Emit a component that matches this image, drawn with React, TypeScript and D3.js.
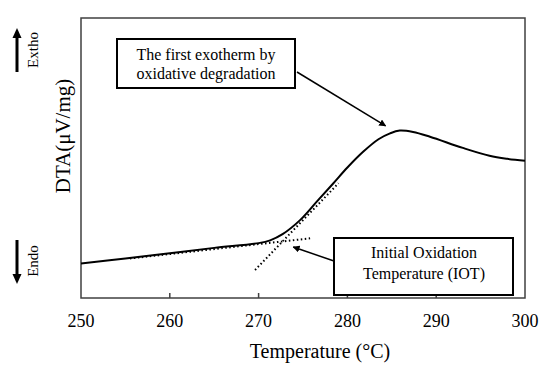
import React from "react";
import * as d3 from "d3";

const temps = [250, 255, 260, 265, 270, 271.3, 272.7, 274.7, 276.6, 278.4, 280, 281.8, 283.5, 284.8, 285.9, 287.4, 289.3, 293, 296, 298, 300];
const dta = [12.3, 14.1, 16.0, 17.9, 19.6, 20.6, 22.8, 27.9, 34.6, 40.9, 46.6, 52.3, 56.7, 58.8, 59.8, 59.3, 57.6, 53.6, 50.8, 49.7, 49.0];
const baseTangentT = [255.5, 275.8];
const baseTangentV = [14.1, 21.3];
const riseTangentT = [269.6, 279.0];
const riseTangentV = [10, 41];
const xTicks = [250, 260, 270, 280, 290, 300];
// annotation anchor points (data coords)
const peakNoteT = 284.3;
const peakNoteV = 61.5;
const iotNoteT = 273.9;
const iotNoteV = 18.2;

const W = 550, H = 371;
const L = 81, R = 525, T = 18, B = 298;
const FONT = "Liberation Serif";

export default function App() {
  const x = d3.scaleLinear().domain([250, 300]).range([L, R]);
  const y = d3.scaleLinear().domain([0, 100]).range([B, T]);
  const pts = d3.zip(temps, dta) as [number, number][];
  const curve = d3
    .line<[number, number]>()
    .x((d) => x(d[0]))
    .y((d) => y(d[1]))
    .curve(d3.curveCatmullRom.alpha(0.5))(pts);

  const a1 = { x1: 297, y1: 72, x2: x(peakNoteT), y2: y(peakNoteV) };
  const a2 = { x1: 334, y1: 261, x2: x(iotNoteT), y2: y(iotNoteV) };

  const txt = { fontFamily: FONT, fill: "#000" } as React.CSSProperties;

  return (
    <svg width={W} height={H} style={{ position: "absolute", left: 0, top: 0, background: "#fff", fontFamily: FONT }}>
      <defs>
        <marker id="ah" viewBox="0 0 10 10" refX="9" refY="5" markerWidth="7" markerHeight="7" orient="auto" markerUnits="userSpaceOnUse">
          <path d="M0,0 L10,5 L0,10 z" fill="#000" />
        </marker>
      </defs>
      <rect x={0} y={0} width={W} height={H} fill="#fff" />
      {/* frame */}
      <rect x={L} y={T} width={R - L} height={B - T} fill="none" stroke="#404040" strokeWidth={1.5} />
      {xTicks.slice(1, -1).map((t) => (
        <line key={t} x1={x(t)} x2={x(t)} y1={B} y2={B - 5} stroke="#404040" strokeWidth={1.5} />
      ))}
      {xTicks.map((t) => (
        <text key={"l" + t} x={x(t)} y={327} fontSize={18} style={txt} textAnchor="middle">
          {t}
        </text>
      ))}
      <text x={320} y={358} fontSize={20} style={txt} textAnchor="middle">
        Temperature (°C)
      </text>
      <text transform="translate(70,136) rotate(-90)" fontSize={21} style={txt} textAnchor="middle">
        DTA(μV/mg)
      </text>
      <text transform="translate(38,50) rotate(-90)" fontSize={15} style={txt} textAnchor="middle">
        Extho
      </text>
      <text transform="translate(38,261) rotate(-90)" fontSize={15} style={txt} textAnchor="middle">
        Endo
      </text>
      {/* Exo / Endo arrows */}
      <line x1={17} y1={72} x2={17} y2={36} stroke="#000" strokeWidth={3} />
      <path d="M12.5,38 L17,28 L21.5,38 z" fill="#000" />
      <line x1={17} y1={240} x2={17} y2={276} stroke="#000" strokeWidth={3} />
      <path d="M12.5,274 L17,284 L21.5,274 z" fill="#000" />

      {/* tangents */}
      <line x1={x(baseTangentT[0])} y1={y(baseTangentV[0])} x2={x(baseTangentT[1])} y2={y(baseTangentV[1])} stroke="#000" strokeWidth={2} strokeDasharray="1.5,2.5" />
      <line x1={x(riseTangentT[0])} y1={y(riseTangentV[0])} x2={x(riseTangentT[1])} y2={y(riseTangentV[1])} stroke="#000" strokeWidth={2} strokeDasharray="1.5,2.5" />
      {/* DTA curve */}
      <path d={curve || ""} fill="none" stroke="#000" strokeWidth={2} />

      {/* annotation 1 */}
      <rect x={117} y={39} width={178} height={49} fill="#fff" stroke="#000" strokeWidth={2} />
      <text x={206} y={60} fontSize={16} style={txt} textAnchor="middle">
        The first exotherm by
      </text>
      <text x={206} y={79} fontSize={16} style={txt} textAnchor="middle">
        oxidative degradation
      </text>
      <line {...a1} stroke="#000" strokeWidth={1.5} markerEnd="url(#ah)" />

      {/* annotation 2 */}
      <rect x={334} y={238} width={179} height={57} fill="#fff" stroke="#000" strokeWidth={2} />
      <text x={424} y={258} fontSize={16} style={txt} textAnchor="middle">
        Initial Oxidation
      </text>
      <text x={424} y={279} fontSize={16} style={txt} textAnchor="middle">
        Temperature (IOT)
      </text>
      <line {...a2} stroke="#000" strokeWidth={1.5} markerEnd="url(#ah)" />
    </svg>
  );
}
